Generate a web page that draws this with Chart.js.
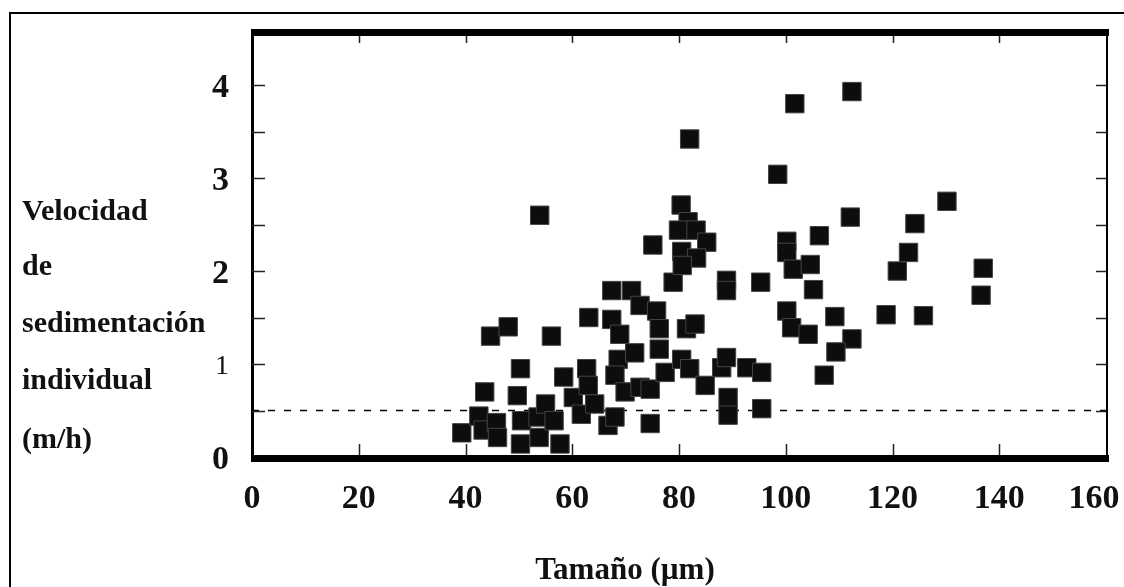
<!DOCTYPE html>
<html>
<head>
<meta charset="utf-8">
<script src="https://cdn.jsdelivr.net/npm/chart.js@4.4.1/dist/chart.umd.min.js"></script>
<style>
  html, body { margin: 0; padding: 0; background: #fff; }
</style>
</head>
<body>
<canvas id="sedChart" width="1124" height="587"></canvas>
<script>
// Particle size (µm) and individual settling velocity (m/h)
const sizeUm = [
  39.3, 42.5, 43.3, 45.8, 46.0, 43.6, 44.7, 48.0, 50.3, 49.7,
  50.3, 50.5, 53.6, 55.0, 53.8, 56.6, 57.7, 56.1, 58.4, 60.2,
  61.7, 62.7, 63.1, 63.0, 64.2, 66.7, 68.0, 67.4, 67.4, 68.9,
  68.6, 68.0, 69.9, 71.1, 71.7, 72.7, 72.7, 74.6, 74.6, 75.8,
  76.3, 76.3, 77.4, 78.9, 80.5, 81.4, 83.0, 82.0, 84.9, 88.0,
  88.9, 89.2, 89.2, 88.9, 88.9, 92.7, 95.5, 95.5, 95.3, 100.2,
  101.1, 100.2, 100.2, 101.4, 104.6, 105.2, 104.2, 109.2, 112.4, 109.4,
  107.2, 120.9, 123.0, 118.8, 125.8, 137.0, 136.6, 53.9, 82.0, 98.5,
  101.7, 80.4, 81.7, 79.9, 83.2, 85.2, 75.1, 80.5, 83.3, 80.6,
  112.4, 130.2, 112.1, 124.2, 106.3
];
const velocity = [
  0.26, 0.44, 0.29, 0.37, 0.21, 0.70, 1.30, 1.40, 0.95, 0.66,
  0.14, 0.39, 0.43, 0.57, 0.21, 0.39, 0.14, 1.30, 0.86, 0.64,
  0.46, 0.95, 1.50, 0.77, 0.57, 0.34, 0.43, 1.79, 1.48, 1.32,
  1.05, 0.88, 0.70, 1.79, 1.12, 1.63, 0.75, 0.36, 0.73, 1.57,
  1.38, 1.16, 0.91, 1.88, 1.05, 1.38, 1.43, 0.95, 0.77, 0.96,
  1.07, 0.64, 0.45, 1.90, 1.79, 0.96, 0.91, 0.52, 1.88, 1.57,
  1.39, 2.32, 2.20, 2.02, 2.07, 1.80, 1.32, 1.51, 1.27, 1.13,
  0.88, 2.00, 2.20, 1.53, 1.52, 2.03, 1.74, 2.60, 3.42, 3.04,
  3.80, 2.71, 2.53, 2.44, 2.44, 2.31, 2.28, 2.21, 2.14, 2.06,
  3.93, 2.75, 2.58, 2.51, 2.38
];

// dashed reference line
const thresholdX = [0, 160];
const thresholdY = [0.5, 0.5];

const yTitleLines = ["Velocidad", "de", "sedimentación", "individual", "(m/h)"];
const xTitle = "Tamaño (µm)";

const serif = "'Liberation Serif', 'Times New Roman', serif";

const points = sizeUm.map((x, i) => ({ x: x, y: velocity[i] }));
const threshold = thresholdX.map((x, i) => ({ x: x, y: thresholdY[i] }));

// Draws the box, thick bars, inward ticks and the titles
const framePlugin = {
  id: "frame",
  beforeDraw(chart) {
    // pull the last x label ("160") back inside the canvas like the original
    const items = chart.scales.x.getLabelItems(chart.chartArea);
    const last = items[items.length - 1];
    if (last && !last.shifted) {
      last.options.translation[0] -= 12;
      last.shifted = true;
    }
  },
  afterDraw(chart) {
    const ctx = chart.ctx;
    const { left, right, top, bottom } = chart.chartArea;
    const xAxis = chart.scales.x;
    const yAxis = chart.scales.y;

    ctx.save();
    ctx.fillStyle = "#000";

    // outer figure border (only top and left are visible)
    ctx.fillRect(9, 12, chart.width - 9, 2);
    ctx.fillRect(9, 12, 2, chart.height - 12);

    // thick top and bottom bars, thin side axes
    ctx.fillRect(left - 1, top - 4, right - left + 4, 7);
    ctx.fillRect(left - 1, bottom - 2, right - left + 4, 7);
    ctx.fillRect(left - 1, top, 3, bottom - top);
    ctx.fillRect(right, top, 2, bottom - top);

    // inward ticks on left and right
    ctx.strokeStyle = "#222";
    ctx.lineWidth = 1.5;
    for (let v = 0.5; v <= 4; v += 0.5) {
      const py = Math.round(yAxis.getPixelForValue(v)) + 0.5;
      ctx.beginPath();
      ctx.moveTo(left, py);
      ctx.lineTo(left + 13, py);
      ctx.moveTo(right, py);
      ctx.lineTo(right - 10, py);
      ctx.stroke();
    }
    // inward ticks on bottom and top
    for (let v = 20; v < 160; v += 20) {
      const px = Math.round(xAxis.getPixelForValue(v)) + 0.5;
      ctx.beginPath();
      ctx.moveTo(px, bottom - 2);
      ctx.lineTo(px, bottom - 13);
      ctx.moveTo(px, top + 3);
      ctx.lineTo(px, top + 10);
      ctx.stroke();
    }

    // y title as stacked horizontal lines
    ctx.fillStyle = "#111";
    ctx.font = "bold 30px " + serif;
    ctx.textAlign = "left";
    ctx.textBaseline = "alphabetic";
    const baselines = [220, 275, 332, 389, 448];
    yTitleLines.forEach((line, i) => {
      ctx.fillText(line, 22, baselines[i]);
    });

    // x title
    ctx.font = "bold 31px " + serif;
    ctx.textAlign = "center";
    ctx.fillText(xTitle, 625, 579);
    ctx.restore();
  },
};

const ctx = document.getElementById("sedChart");

new Chart(ctx, {
  type: "scatter",
  data: {
    datasets: [
      {
        label: "Velocidad",
        data: points,
        pointStyle: "rect",
        pointRadius: 13,
        pointHoverRadius: 13,
        backgroundColor: "#0d0d0d",
        borderColor: "#444",
        borderWidth: 1,
        order: 1,
      },
      {
        label: "Referencia",
        type: "line",
        data: threshold,
        showLine: true,
        borderColor: "#000",
        borderWidth: 1.5,
        borderDash: [7, 9],
        pointRadius: 0,
        fill: false,
        order: 2,
      },
    ],
  },
  options: {
    responsive: false,
    animation: false,
    layout: {
      padding: { left: 0, top: 33, right: 18, bottom: 0 },
    },
    plugins: {
      legend: { display: false },
      tooltip: { enabled: false },
    },
    scales: {
      x: {
        type: "linear",
        min: 0,
        max: 160,
        afterFit(scale) {
          scale.height = 130;
          // no extra room for the end labels, the box is fixed
          scale.paddingLeft = 0;
          scale.paddingRight = 0;
        },
        grid: { display: false, drawTicks: false },
        border: { display: false },
        ticks: {
          stepSize: 20,
          padding: 22,
          color: "#111",
          font: { family: serif, size: 34, weight: "bold" },
        },
      },
      y: {
        type: "linear",
        min: 0,
        max: 4.56,
        afterFit(scale) {
          scale.width = 252;
          scale.paddingTop = 0;
          scale.paddingBottom = 0;
        },
        grid: { display: false, drawTicks: false },
        border: { display: false },
        ticks: {
          stepSize: 0.5,
          padding: 23,
          labelOffset: 3,
          color: "#111",
          callback: (value) => (value % 1 === 0 ? value : ""),
          font: (c) =>
            c.tick && c.tick.value === 1
              ? { family: serif, size: 28, weight: "normal" }
              : { family: serif, size: 34, weight: "bold" },
        },
      },
    },
  },
  plugins: [framePlugin],
});
</script>
</body>
</html>
